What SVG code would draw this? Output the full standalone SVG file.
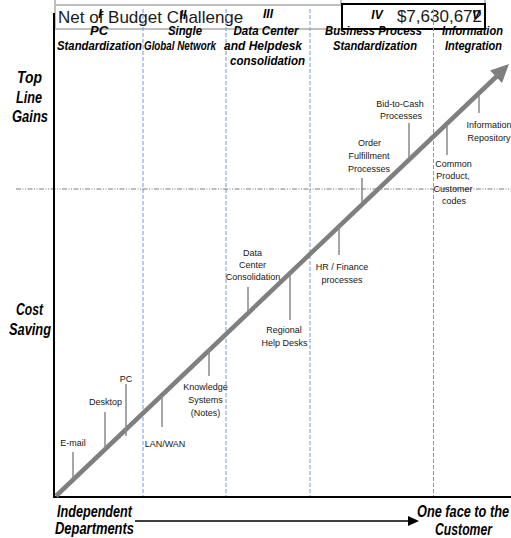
<svg xmlns="http://www.w3.org/2000/svg" width="511" height="538" viewBox="0 0 511 538">
  <defs>
    <style>
      .hdr { font-family: "Liberation Sans", Arial, sans-serif; font-style: italic; font-weight: bold; font-size: 12px; text-anchor: middle; fill: #000; }
      .big { font-family: "Liberation Sans", Arial, sans-serif; font-style: italic; font-weight: bold; font-size: 16px; fill: #000; }
      .mid { text-anchor: middle; }
      .lbl { font-family: "Liberation Sans", Arial, sans-serif; font-size: 9px; text-anchor: middle; fill: #161616; }
      .budget { font-family: "Liberation Sans", Arial, sans-serif; font-size: 17px; fill: #1a1a1a; }
      .grid { stroke: #c0c0c0; stroke-width: 2; fill: none; }
      .phase { stroke: #6d99e6; stroke-width: 1; stroke-dasharray: 4 2; }
      .level { stroke: #7a7a7a; stroke-width: 1; stroke-dasharray: 5 1.5 1 1.5 1 1.5; }
      .axis { stroke: #000; stroke-width: 2; fill: none; }
      .tick { stroke: #888; stroke-width: 1.5; }
      .trend { stroke: #7f7f7f; stroke-width: 4.5; fill: none; }
    </style>
  </defs>

  <rect width="511" height="538" fill="#fff"/>

  <!-- budget table row -->
  <g id="budget-row">
    <path class="grid" d="M55 5H342M55 29H342M55 0V29M341 0V4M485 0V4"/>
    <rect x="342" y="4" width="143" height="25" fill="#fff" stroke="#000" stroke-width="2"/>
    <text class="budget" x="58" y="23">Net of Budget Challenge</text>
    <text class="budget" x="482" y="22" text-anchor="end">$7,630,672</text>
  </g>

  <!-- phase dividers and level line -->
  <g id="guides">
    <line class="phase" x1="143" y1="9" x2="143" y2="497"/>
    <line class="phase" x1="226" y1="9" x2="226" y2="497"/>
    <line class="phase" x1="310" y1="9" x2="310" y2="497"/>
    <line class="phase" x1="433.5" y1="9" x2="433.5" y2="497"/>
    <line class="level" x1="16" y1="189" x2="511" y2="189"/>
  </g>

  <!-- axes -->
  <g id="axes">
    <line class="axis" x1="54" y1="13" x2="54" y2="498"/>
    <line class="axis" x1="53" y1="497" x2="511" y2="497"/>
  </g>

  <!-- phase headings -->
  <g id="phase-1">
    <text class="hdr" x="100" y="18">I</text>
    <text class="hdr" x="99" y="35" textLength="18" lengthAdjust="spacingAndGlyphs">PC</text>
    <text class="hdr" x="99.5" y="50" textLength="85" lengthAdjust="spacingAndGlyphs">Standardization</text>
  </g>
  <g id="phase-2">
    <text class="hdr" x="183" y="19">II</text>
    <text class="hdr" x="185" y="35" textLength="34" lengthAdjust="spacingAndGlyphs">Single</text>
    <text class="hdr" x="180" y="50" textLength="72" lengthAdjust="spacingAndGlyphs">Global Network</text>
  </g>
  <g id="phase-3">
    <text class="hdr" x="268" y="18">III</text>
    <text class="hdr" x="266" y="35" textLength="65" lengthAdjust="spacingAndGlyphs">Data Center</text>
    <text class="hdr" x="263" y="50" textLength="78" lengthAdjust="spacingAndGlyphs">and Helpdesk</text>
    <text class="hdr" x="267.5" y="65" textLength="75" lengthAdjust="spacingAndGlyphs">consolidation</text>
  </g>
  <g id="phase-4">
    <text class="hdr" x="377" y="19">IV</text>
    <text class="hdr" x="373.5" y="35" textLength="97" lengthAdjust="spacingAndGlyphs">Business Process</text>
    <text class="hdr" x="375" y="50" textLength="84" lengthAdjust="spacingAndGlyphs">Standardization</text>
  </g>
  <g id="phase-5">
    <text class="hdr" x="476" y="19">V</text>
    <text class="hdr" x="472.5" y="35" textLength="61" lengthAdjust="spacingAndGlyphs">Information</text>
    <text class="hdr" x="473.5" y="50" textLength="57" lengthAdjust="spacingAndGlyphs">Integration</text>
  </g>

  <!-- value axis labels -->
  <g id="top-line-gains">
    <text class="big mid" x="29.5" y="83" textLength="25" lengthAdjust="spacingAndGlyphs">Top</text>
    <text class="big mid" x="29" y="103" textLength="26" lengthAdjust="spacingAndGlyphs">Line</text>
    <text class="big mid" x="30" y="122" textLength="36" lengthAdjust="spacingAndGlyphs">Gains</text>
  </g>
  <g id="cost-saving">
    <text class="big mid" x="29.5" y="315" textLength="27" lengthAdjust="spacingAndGlyphs">Cost</text>
    <text class="big mid" x="30" y="335" textLength="42" lengthAdjust="spacingAndGlyphs">Saving</text>
  </g>

  <!-- organisation axis labels -->
  <g id="independent-departments">
    <text class="big" x="57" y="517" textLength="75" lengthAdjust="spacingAndGlyphs">Independent</text>
    <text class="big" x="55" y="534" textLength="79" lengthAdjust="spacingAndGlyphs">Departments</text>
  </g>
  <g id="one-face">
    <text class="big" x="417" y="517" textLength="92" lengthAdjust="spacingAndGlyphs">One face to the</text>
    <text class="big mid" x="463.5" y="535" textLength="57" lengthAdjust="spacingAndGlyphs">Customer</text>
  </g>

  <!-- connectors: trend arrow, progression arrow, milestone ticks -->
  <g id="connectors">
    <line class="trend" x1="56" y1="496" x2="497" y2="76"/>
    <polygon points="509,64 490,70.5 502,83" fill="#7f7f7f"/>
    <line x1="135" y1="521" x2="410" y2="521" stroke="#000" stroke-width="1.5"/>
    <polygon points="408,516 419,521 408,526" fill="#000"/>
    <line class="tick" x1="73" y1="452" x2="73" y2="479"/>
    <line class="tick" x1="105" y1="412" x2="105" y2="448"/>
    <line class="tick" x1="126" y1="384" x2="126" y2="436"/>
    <line class="tick" x1="162" y1="396" x2="162" y2="427"/>
    <line class="tick" x1="209" y1="348" x2="209" y2="376"/>
    <line class="tick" x1="248" y1="287" x2="248" y2="312"/>
    <line class="tick" x1="290" y1="273" x2="290" y2="320"/>
    <line class="tick" x1="339" y1="226" x2="339" y2="255"/>
    <line class="tick" x1="362" y1="178" x2="362" y2="204"/>
    <line class="tick" x1="409" y1="123" x2="409" y2="159"/>
    <line class="tick" x1="447" y1="124" x2="447" y2="155"/>
    <line class="tick" x1="479" y1="95" x2="479" y2="113"/>
  </g>

  <!-- milestones -->
  <g id="email"><text class="lbl" x="73" y="446">E-mail</text></g>
  <g id="desktop"><text class="lbl" x="105.5" y="405">Desktop</text></g>
  <g id="pc"><text class="lbl" x="126" y="382">PC</text></g>
  <g id="lan-wan"><text class="lbl" x="165" y="447">LAN/WAN</text></g>
  <g id="knowledge-systems">
    <text class="lbl" x="205.5" y="390">Knowledge</text>
    <text class="lbl" x="205.5" y="403">Systems</text>
    <text class="lbl" x="205.5" y="416">(Notes)</text>
  </g>
  <g id="data-center-consolidation">
    <text class="lbl" x="252.5" y="256">Data</text>
    <text class="lbl" x="252.5" y="268">Center</text>
    <text class="lbl" x="253" y="280">Consolidation</text>
  </g>
  <g id="regional-help-desks">
    <text class="lbl" x="284" y="333">Regional</text>
    <text class="lbl" x="284.5" y="346">Help Desks</text>
  </g>
  <g id="hr-finance">
    <text class="lbl" x="342" y="270">HR / Finance</text>
    <text class="lbl" x="342" y="283">processes</text>
  </g>
  <g id="order-fulfillment">
    <text class="lbl" x="369.5" y="146">Order</text>
    <text class="lbl" x="369" y="159">Fulfillment</text>
    <text class="lbl" x="369" y="172">Processes</text>
  </g>
  <g id="bid-to-cash">
    <text class="lbl" x="400" y="107">Bid-to-Cash</text>
    <text class="lbl" x="401" y="119">Processes</text>
  </g>
  <g id="common-codes">
    <text class="lbl" x="453.5" y="167">Common</text>
    <text class="lbl" x="453" y="179">Product,</text>
    <text class="lbl" x="453" y="192">Customer</text>
    <text class="lbl" x="454" y="204">codes</text>
  </g>
  <g id="information-repository">
    <text class="lbl" x="489" y="128">Information</text>
    <text class="lbl" x="489" y="141">Repository</text>
  </g>
</svg>
